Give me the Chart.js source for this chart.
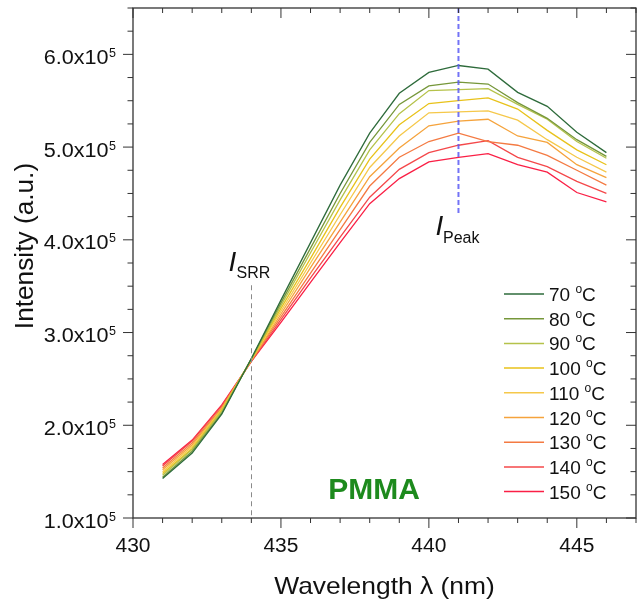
<!DOCTYPE html>
<html>
<head>
<meta charset="utf-8">
<script src="https://cdn.jsdelivr.net/npm/chart.js@4.4.0/dist/chart.umd.min.js"></script>
<style>
body{margin:0;background:#fff;}
#wrap{width:638px;height:601px;}
</style>
</head>
<body>
<div id="wrap"><canvas id="myChart" width="638" height="601"></canvas></div>
<script>
// wavelength (nm) and intensity (a.u.)
let wavelengths = [431, 432, 433, 434, 435, 436, 437, 438, 439, 440, 441, 442, 443, 444, 445, 446];
let temps = ["70", "80", "90", "100", "110", "120", "130", "140", "150"];

let s70  = [142500, 170000, 212000, 272000, 335000, 397000, 459000, 515000, 558000, 580500, 588000, 584000, 559000, 544000, 516000, 494000];
let s80  = [144000, 172000, 213000, 272000, 332000, 391000, 450000, 505000, 546000, 566000, 570000, 568000, 548000, 531000, 508000, 490000];
let s90  = [146000, 174000, 215000, 271000, 329000, 386000, 443000, 497000, 536000, 561000, 562000, 563000, 546000, 530000, 506000, 488000];
let s100 = [148000, 175000, 216000, 271000, 326000, 380000, 435000, 487000, 524000, 547000, 550000, 553000, 541000, 518000, 497000, 481000];
let s110 = [150000, 177000, 217000, 271000, 323000, 375000, 427000, 478000, 512000, 537000, 538000, 539000, 529000, 508000, 489000, 473000];
let s120 = [152000, 179000, 218000, 270000, 320000, 370000, 419000, 468000, 499000, 523000, 528000, 530000, 512000, 505000, 481000, 467000];
let s130 = [154000, 181000, 219000, 270000, 317000, 364000, 411000, 458000, 489000, 506000, 515000, 506000, 502000, 491000, 475000, 459000];
let s140 = [156000, 183000, 221000, 269000, 314000, 359000, 403000, 446000, 476000, 494000, 502000, 507000, 489000, 479000, 463000, 450000];
let s150 = [157600, 184000, 222000, 269000, 311000, 354000, 397000, 439000, 466000, 484000, 489000, 493000, 481000, 473000, 451000, 441000];
let series = [s70, s80, s90, s100, s110, s120, s130, s140, s150];

let colors = ["#2e6b3b", "#76973a", "#b5c24a", "#e8c21a", "#f5c84a", "#f5a33c", "#f47a42", "#f4484a", "#fa1f45"];

let xTicks = [430, 435, 440, 445];
let yTicks = [100000, 200000, 300000, 400000, 500000, 600000];
let yTickLabels = ["1.0x10", "2.0x10", "3.0x10", "4.0x10", "5.0x10", "6.0x10"];

// marker lines: I_SRR at 434 nm, I_Peak at 441 nm
let markerX = [434, 441];
let markerFrom = [100000, 428500];
let markerTo = [351000, 650000];

const FONT = "'Liberation Sans', Arial, sans-serif";

// text a bit wider than the font, as in the original export
function wideText(ctx, txt, x, y, sx) {
  ctx.save();
  ctx.translate(x, y);
  ctx.scale(sx, 1);
  ctx.fillText(txt, 0, 0);
  ctx.restore();
}

let decor = {
  id: "decor",
  afterDatasetsDraw(chart) {
    let ctx = chart.ctx, xs = chart.scales.x, ys = chart.scales.y, a = chart.chartArea;
    ctx.save();

    // dashed markers
    ctx.lineWidth = 1;
    ctx.setLineDash([5, 4]);
    ctx.strokeStyle = "#8a8a8a";
    let p0 = Math.round(xs.getPixelForValue(markerX[0])) + 0.5;
    ctx.beginPath(); ctx.moveTo(p0, ys.getPixelForValue(markerTo[0])); ctx.lineTo(p0, ys.getPixelForValue(markerFrom[0])); ctx.stroke();
    ctx.lineWidth = 2;
    ctx.setLineDash([5, 3]);
    ctx.strokeStyle = "rgba(90,90,245,0.85)";
    let p1 = xs.getPixelForValue(markerX[1]);
    ctx.beginPath(); ctx.moveTo(p1, ys.getPixelForValue(markerTo[1])); ctx.lineTo(p1, ys.getPixelForValue(markerFrom[1])); ctx.stroke();
    ctx.setLineDash([]);

    // marker labels
    ctx.fillStyle = "#111";
    ctx.textAlign = "left";
    ctx.textBaseline = "alphabetic";
    ctx.font = "italic 28px " + FONT;
    ctx.fillText("I", p0 - 23, 271);
    ctx.fillText("I", p1 - 23, 235);
    ctx.font = "16px " + FONT;
    ctx.fillText("SRR", p0 - 15, 278);
    ctx.fillText("Peak", p1 - 15.5, 243);

    // frame
    ctx.strokeStyle = "#333";
    ctx.lineWidth = 1.3;
    ctx.strokeRect(a.left, a.top, a.right - a.left, a.bottom - a.top);

    // ticks
    ctx.lineWidth = 1;
    ctx.beginPath();
    for (let v = 430; v <= 447; v++) {
      let px = xs.getPixelForValue(v), len = v % 5 === 0 ? 10 : 5;
      ctx.moveTo(px, a.bottom); ctx.lineTo(px, a.bottom + len);
      ctx.moveTo(px, a.top); ctx.lineTo(px, a.top + len);
    }
    for (let v = 100000; v <= 650000; v += 25000) {
      let py = ys.getPixelForValue(v), len = v % 100000 === 0 ? 10 : 5.5;
      ctx.moveTo(a.left, py); ctx.lineTo(a.left - len, py);
      ctx.moveTo(a.right, py); ctx.lineTo(a.right - len, py);
    }
    ctx.stroke();

    // tick labels
    ctx.fillStyle = "#111";
    ctx.font = "20px " + FONT;
    ctx.textAlign = "center";
    xTicks.forEach(t => wideText(ctx, String(t), xs.getPixelForValue(t), 552, 1.05));
    yTicks.forEach((t, i) => {
      let py = ys.getPixelForValue(t);
      ctx.textAlign = "right";
      ctx.font = "20px " + FONT;
      wideText(ctx, yTickLabels[i], 108.5, py + 9.5, 1.08);
      ctx.textAlign = "left";
      ctx.font = "12.5px " + FONT;
      ctx.fillText("5", 109, py + 2.5);
    });

    // axis titles
    ctx.font = "24px " + FONT;
    ctx.textAlign = "center";
    wideText(ctx, "Wavelength \u03bb (nm)", (a.left + a.right) / 2, 594, 1.1);
    ctx.save();
    ctx.translate(33, 246);
    ctx.rotate(-Math.PI / 2);
    ctx.font = "25px " + FONT;
    wideText(ctx, "Intensity (a.u.)", 0, 0, 1.05);
    ctx.restore();

    // sample name
    ctx.font = "bold 30px " + FONT;
    ctx.fillStyle = "#1d8a1d";
    ctx.fillText("PMMA", 374, 499);

    // legend
    ctx.textAlign = "left";
    temps.forEach((t, i) => {
      let cy = 294 + i * 24.7;
      ctx.strokeStyle = colors[i];
      ctx.lineWidth = 1.5;
      ctx.beginPath(); ctx.moveTo(504, cy); ctx.lineTo(544, cy); ctx.stroke();
      ctx.fillStyle = "#111";
      ctx.font = "19px " + FONT;
      let tx = 549, base = cy + 7;
      let s = t + " ";
      ctx.fillText(s, tx, base);
      tx += ctx.measureText(s).width;
      ctx.font = "12px " + FONT;
      ctx.fillText("o", tx, base - 8);
      tx += ctx.measureText("o").width;
      ctx.font = "19px " + FONT;
      ctx.fillText("C", tx, base);
    });

    ctx.restore();
  }
};

let ctx = document.getElementById("myChart").getContext("2d");
let myChart = new Chart(ctx, {
  type: "line",
  data: {
    datasets: temps.map((t, i) => ({
      label: t + " \u00b0C",
      data: wavelengths.map((w, j) => ({x: w, y: series[i][j]})),
      borderColor: colors[i],
      borderWidth: 1.3,
      pointRadius: 0,
      fill: false,
      tension: 0
    }))
  },
  options: {
    responsive: false,
    animation: false,
    layout: {padding: {left: 133, right: 2, top: 8, bottom: 83}},
    plugins: {legend: {display: false}, tooltip: {enabled: false}},
    scales: {
      x: {type: "linear", min: 430, max: 447, display: false},
      y: {type: "linear", min: 100000, max: 650000, display: false}
    }
  },
  plugins: [decor]
});
</script>
</body>
</html>
